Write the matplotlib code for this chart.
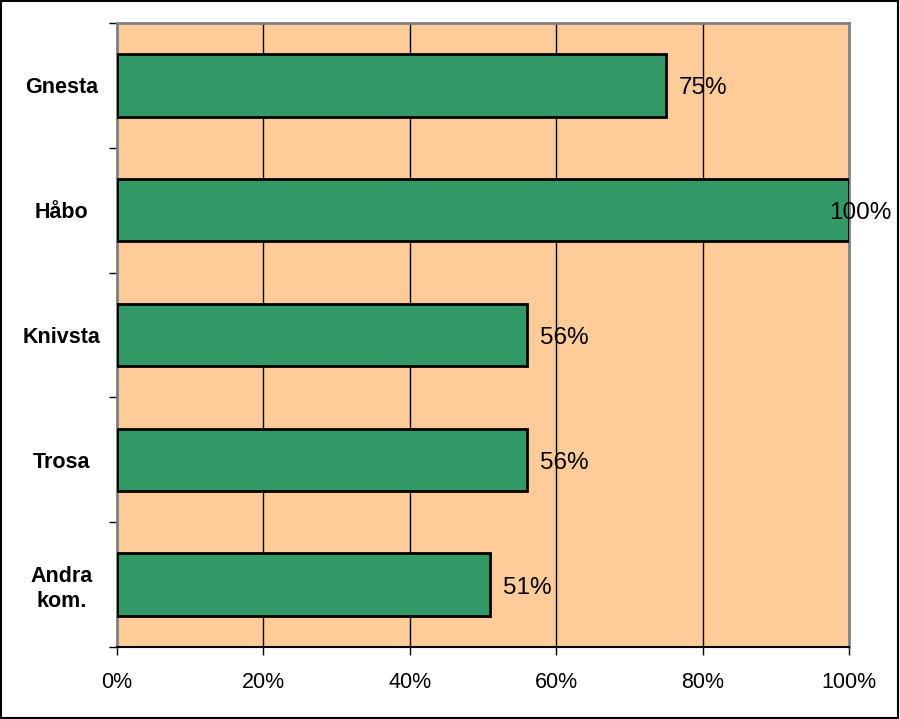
import matplotlib
matplotlib.use("Agg")
import matplotlib.pyplot as plt
from matplotlib.patches import Rectangle

categories = ["Gnesta", "Håbo", "Knivsta", "Trosa", "Andra\nkom."]
values = [0.75, 1.00, 0.56, 0.56, 0.51]
labels = ["75%", "100%", "56%", "56%", "51%"]
xticks = [0, 0.2, 0.4, 0.6, 0.8, 1.0]
xticklabels = ["0%", "20%", "40%", "60%", "80%", "100%"]

plt.rcParams['font.family'] = ['Liberation Sans', 'DejaVu Sans']

fig = plt.figure(figsize=(9, 7.19), dpi=100)
ax = fig.add_axes([117/900, 72/719, 732/900, 624/719])
ax.set_facecolor("#FFCC99")

n = len(categories)
ypos = list(range(n))
ax.barh(ypos, values, height=0.5, color="#339966", edgecolor="black",
        linewidth=2, zorder=3)
ax.set_xlim(0, 1)
ax.set_ylim(n - 0.5, -0.5)

for x in xticks[1:-1]:
    ax.axvline(x, color="black", linewidth=1, zorder=1)

ax.set_xticks(xticks)
ax.set_xticklabels(xticklabels, fontsize=15.5)
ax.tick_params(axis='x', direction='out', length=6, width=1, color='black', pad=12)

ax.set_yticks([i - 0.5 for i in range(n + 1)], minor=False)
ax.set_yticklabels([])
ax.set_yticks(ypos, minor=True)
ax.set_yticklabels(categories, minor=True, fontsize=15.5, fontweight='bold',
                   ha='center', linespacing=1.25)
ax.tick_params(axis='y', which='minor', length=0, pad=40)
ax.tick_params(axis='y', which='major', direction='out', length=6, width=1,
               color='black')

for s in ['top', 'right', 'left']:
    ax.spines[s].set_color('#808080')
    ax.spines[s].set_linewidth(2)
ax.spines['bottom'].set_color('black')
ax.spines['bottom'].set_linewidth(1.5)

for y, v, lab in zip(ypos, values, labels):
    off = 13 if v < 0.95 else -20
    ax.annotate(lab, xy=(v, y), xytext=(off, -3), textcoords='offset pixels',
                ha='left', va='center', fontsize=17.5, zorder=4)

fig.patches.append(Rectangle((0.001, 0.001), 0.997, 0.997, transform=fig.transFigure,
                             fill=False, edgecolor='black', linewidth=1.5))

fig.savefig("out.png", dpi=100)
